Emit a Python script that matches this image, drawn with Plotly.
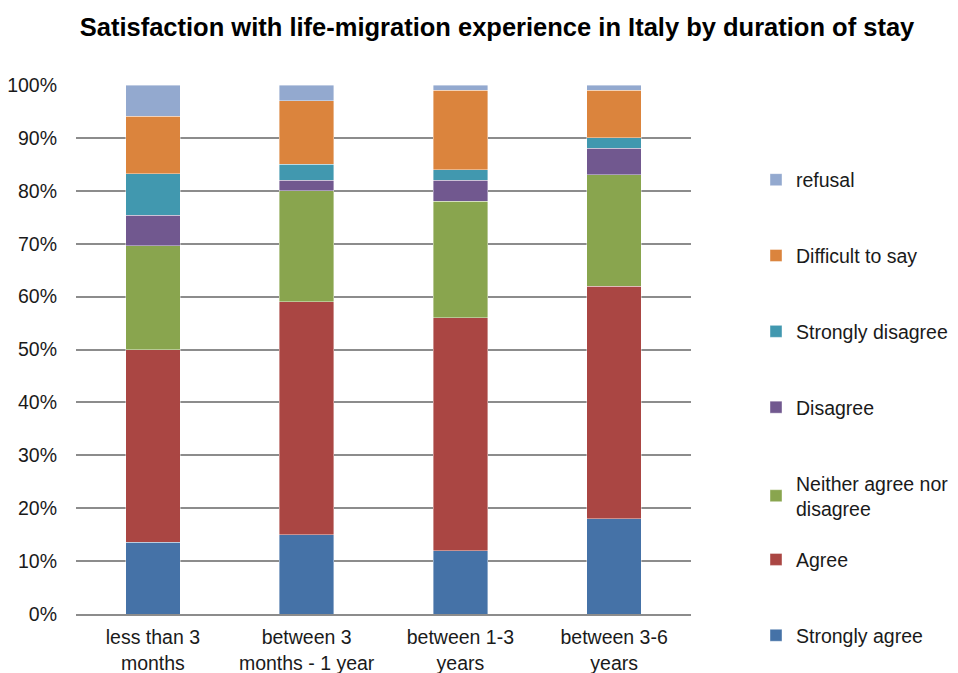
import plotly.graph_objects as go

categories = ["less than 3<br>months", "between 3<br>months - 1 year", "between 1-3<br>years", "between 3-6<br>years"]

strongly_agree = [13.6, 15.0, 12.0, 18.0]
agree = [36.4, 44.0, 44.0, 44.0]
neither = [19.6, 21.0, 22.0, 21.0]
disagree = [5.8, 2.0, 4.0, 5.0]
strongly_disagree = [7.8, 3.0, 2.0, 2.0]
difficult = [10.9, 12.0, 15.0, 9.0]
refusal = [5.9, 3.0, 1.0, 1.0]

series_names = ["Strongly agree", "Agree", "Neither agree nor<br>disagree", "Disagree",
                "Strongly disagree", "Difficult to say", "refusal"]
series_values = [strongly_agree, agree, neither, disagree, strongly_disagree, difficult, refusal]
colors = ["#4572A7", "#AA4643", "#89A54E", "#71588F", "#4198AF", "#DB843D", "#93A9CF"]
legend_ids = ["legend2", "legend2", "legend", "legend", "legend", "legend", "legend"]

FONT = "Liberation Sans, Arial, sans-serif"
FS = 19.5
W, H = 950, 665  # page body has an 8px margin

fig = go.Figure()
n = len(series_names)
for i, (name, vals, col, lg) in enumerate(zip(series_names, series_values, colors, legend_ids)):
    fig.add_trace(go.Bar(
        x=categories,
        y=[v / 100 for v in vals],
        name=name,
        legend=lg,
        legendgroup=f"g{i}",
        legendrank=n - i,
        marker=dict(color=col, line=dict(color="rgba(255,255,255,0.5)", width=0.8)),
        width=0.356,
    ))

plot_top, plot_bottom = 77, 606.3
ph = plot_bottom - plot_top
legend_common = dict(
    traceorder="grouped",
    tracegroupgap=47.5,
    xanchor="left", xref="container",
    yanchor="top", yref="paper",
    font=dict(family=FONT, size=FS, color="#1a1a1a"),
    bgcolor="rgba(0,0,0,0)",
)
fig.update_layout(
    barmode="stack",
    width=W,
    height=H,
    paper_bgcolor="white",
    plot_bgcolor="white",
    margin=dict(l=68, r=W - 683, t=plot_top, b=H - plot_bottom),
    font=dict(family=FONT, size=FS, color="#1a1a1a"),
    title=dict(
        text="<b>Satisfaction with life-migration experience in Italy by duration of stay</b>",
        x=489 / W, xanchor="center", xref="container",
        y=1 - 19 / H, yanchor="middle", yref="container",
        font=dict(family=FONT, size=25.5, color="#000000"),
    ),
    legend=dict(legend_common, x=748 / W, y=(plot_bottom - 152.5) / ph),
    legend2=dict(legend_common, x=748 / W, y=(plot_bottom - 532.5) / ph),
    bargap=0.644,
)

fig.update_yaxes(
    range=[0, 1],
    dtick=0.1,
    tickformat=".0%",
    showgrid=True,
    gridcolor="#8c8c8c",
    gridwidth=1.5,
    zeroline=False,
    showline=False,
    ticks="",
    automargin=False,
    ticklabelstandoff=18,
    tickfont=dict(family=FONT, size=FS, color="#1a1a1a"),
)
fig.update_xaxes(
    showline=True,
    linecolor="#8c8c8c",
    linewidth=1.5,
    ticks="",
    automargin=False,
    ticklabelstandoff=5,
    tickfont=dict(family=FONT, size=FS, color="#1a1a1a"),
)

fig.write_html("out.html")
